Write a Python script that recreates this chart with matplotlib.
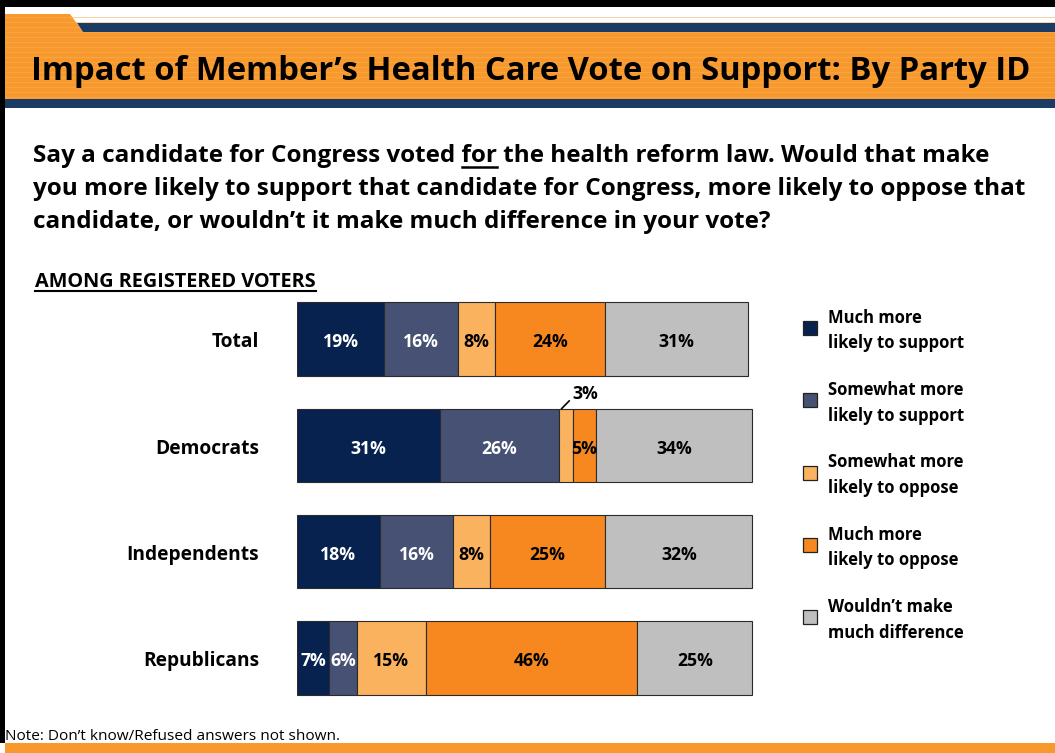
import matplotlib
matplotlib.use("Agg")
import matplotlib.pyplot as plt
from matplotlib.patches import Polygon, Rectangle
from matplotlib.lines import Line2D

plt.rcParams['font.family'] = ['Open Sans', 'DejaVu Sans']

# survey results, percent
groups = ['Total', 'Democrats', 'Independents', 'Republicans']
responses = ['Much more\nlikely to support', 'Somewhat more\nlikely to support',
             'Somewhat more\nlikely to oppose', 'Much more\nlikely to oppose',
             'Wouldn\u2019t make\nmuch difference']
much_support = [19, 31, 18, 7]
some_support = [16, 26, 16, 6]
some_oppose = [8, 3, 8, 15]
much_oppose = [24, 5, 25, 46]
no_difference = [31, 34, 32, 25]

colors = ['#08224F', '#465173', '#FBB25E', '#F6881F', '#BFBFBF']
label_colors = ['white', 'white', 'black', 'black', 'black']

W, H = 1055, 753
fig = plt.figure(figsize=(W / 100, H / 100), dpi=100)

# page background in pixel coordinates
bg = fig.add_axes([0, 0, 1, 1])
bg.set_xlim(0, W)
bg.set_ylim(H, 0)
bg.axis('off')

ORANGE = '#F7992C'
NAVY = '#1A3B64'

# header band with the small tab on the left
bg.add_patch(Polygon([(5, 14), (70, 14), (83, 32), (W, 32), (W, 99), (5, 99)],
                     closed=True, facecolor=ORANGE, edgecolor='none'))
for yy in range(17, 99, 5):
    bg.add_patch(Rectangle((5, yy), W - 5, 1.2, facecolor='#FAAE55',
                           edgecolor='none', alpha=0.55))
bg.add_patch(Polygon([(76.5, 23), (W, 23), (W, 32), (83, 32)], closed=True,
                     facecolor=NAVY, edgecolor='none'))
bg.add_patch(Rectangle((5, 99), W - 5, 9, facecolor=NAVY, edgecolor='none'))

# page frame and footer band
bg.add_patch(Rectangle((0, 0), W, 7, facecolor='black', edgecolor='none'))
bg.add_patch(Rectangle((0, 0), 4.5, 743, facecolor='black', edgecolor='none'))
bg.add_patch(Rectangle((5, 743), W - 5, 10, facecolor=ORANGE, edgecolor='none'))

bg.text(31, 71, 'Impact of Member\u2019s Health Care Vote on Support: By Party ID',
        fontsize=23.6, fontweight='bold', va='center', ha='left', color='black')

q_lines = ['Say a candidate for Congress voted for the health reform law. Would that make',
           'you more likely to support that candidate for Congress, more likely to oppose that',
           'candidate, or wouldn\u2019t it make much difference in your vote?']
q_size = 17.5
for i, line in enumerate(q_lines):
    bg.text(33, 162 + 33 * i, line, fontsize=q_size, fontweight='bold',
            va='baseline', ha='left')

fig.canvas.draw()
renderer = fig.canvas.get_renderer()


def text_width(s, size):
    t = bg.text(0, 0, s, fontsize=size, fontweight='bold')
    w = t.get_window_extent(renderer).width
    t.remove()
    return w


# underline the second "for" in the first line
end_for = 33 + text_width('Say a candidate for Congress voted for', q_size)
start_for = end_for - text_width('for', q_size)
bg.add_line(Line2D([start_for, end_for], [167, 167], color='black', lw=1.8))

sub_size = 14.3
bg.text(35, 282, 'AMONG REGISTERED VOTERS', fontsize=sub_size, fontweight='bold',
        va='center', ha='left')
sub_w = text_width('AMONG REGISTERED VOTERS', sub_size)
bg.add_line(Line2D([35, 35 + sub_w], [291, 291], color='black', lw=1.5))

bg.text(5, 736, 'Note: Don\u2019t know/Refused answers not shown.', fontsize=11.1,
        va='center', ha='left')

# stacked bars
ax = fig.add_axes([297 / W, 1 - 711 / H, 460 / W, 425 / H])
ax.set_xlim(0, 100)
ax.set_ylim(3.5, -0.5)
ax.axis('off')

dy = 0.03  # nudge labels down so the glyphs sit on the bar centre
series = [much_support, some_support, some_oppose, much_oppose, no_difference]
left = [0] * len(groups)
for vals, col, tcol in zip(series, colors, label_colors):
    ax.barh(range(len(groups)), vals, left=left, height=0.69, color=col,
            edgecolor='#2b2b2b', linewidth=0.8)
    for j, v in enumerate(vals):
        cx = left[j] + v / 2
        if v >= 4:
            ax.text(cx, j + dy, f'{v}%', ha='center', va='center', fontsize=12.7,
                    fontweight='bold', color=tcol)
    left = [a + b for a, b in zip(left, vals)]

# small segment labelled above its bar
dem = groups.index('Democrats')
x3 = much_support[dem] + some_support[dem] + some_oppose[dem] / 2
ax.annotate(f'{some_oppose[dem]}%', xy=(x3 - 1.0, dem - 0.345),
            xytext=(x3 + 1.3, dem - 0.48), fontsize=12.7, fontweight='bold',
            ha='left', va='center',
            arrowprops=dict(arrowstyle='-', color='black', lw=1.2,
                            shrinkA=0, shrinkB=0, relpos=(0, 0.3)))

for j, g in enumerate(groups):
    ax.text(-8.2, j + dy, g, ha='right', va='center', fontsize=13.8,
            fontweight='bold')

# legend
for k, (lab, col) in enumerate(zip(responses, colors)):
    yc = 328 + 72.3 * k
    bg.add_patch(Rectangle((803, yc - 7), 14, 14, facecolor=col,
                           edgecolor='#222222', linewidth=0.9))
    bg.text(828, yc + 2.5, lab, fontsize=12, fontweight='bold', va='center',
            ha='left', linespacing=1.55)

fig.savefig('out.png', dpi=100)
